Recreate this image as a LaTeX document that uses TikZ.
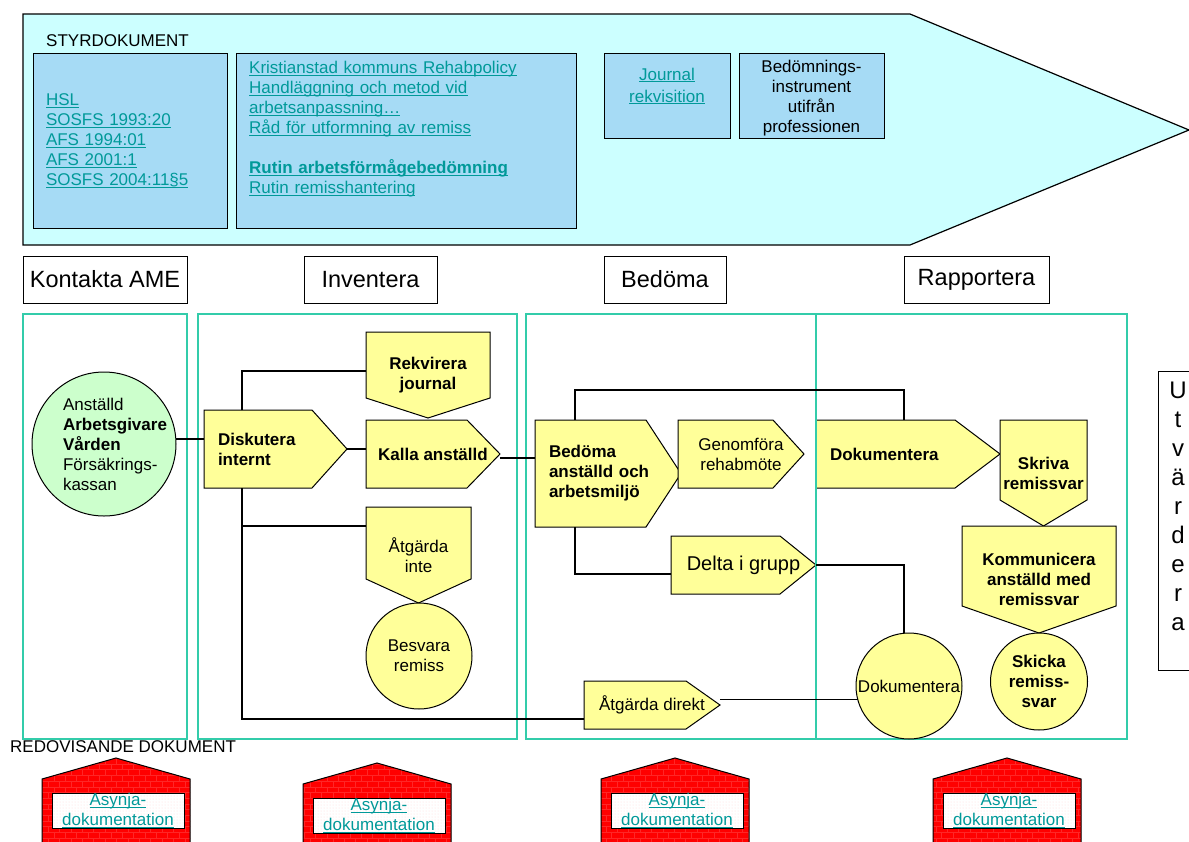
\documentclass[tikz,border=0pt]{standalone}
\usepackage{fontspec}
\setmainfont{Liberation Sans}
\usetikzlibrary{backgrounds, patterns, calc}

\definecolor{sdcyan}{RGB}{204,255,255}
\definecolor{sdblue}{RGB}{166,219,245}
\definecolor{linkteal}{RGB}{0,153,153}
\definecolor{lanegreen}{RGB}{51,204,170}
\definecolor{actyellow}{RGB}{255,255,153}
\definecolor{partgreen}{RGB}{204,255,204}

\newcommand\fbody{\fontsize{17}{20}\selectfont}
\newcommand\lk[1]{\leavevmode{\color{linkteal}\setbox0\hbox{#1}\rlap{\rule[-2.2pt]{\wd0}{1pt}}\box0}}
% pentagon around a node: right pointing / down pointing
\newcommand\rpent[2]{\begin{scope}[on background layer]
  \draw[actfill] (#1.north west) -- ([xshift=-#2pt]#1.north east) -- (#1.east) -- ([xshift=-#2pt]#1.south east) -- (#1.south west) -- cycle;
\end{scope}}
\newcommand\dpent[2]{\begin{scope}[on background layer]
  \draw[actfill] (#1.north west) -- (#1.north east) -- ([yshift=#2pt]#1.south east) -- (#1.south) -- ([yshift=#2pt]#1.south west) -- cycle;
\end{scope}}

\tikzset{
    plain/.style={font=\fbody, inner sep=0pt},
    bigarrow/.style={draw, line width=1.2pt, fill=sdcyan},
    sdbox/.style={draw, line width=1pt, fill=sdblue, font=\fbody, inner sep=2pt, outer sep=0pt},
    header/.style={draw, line width=1pt, fill=white, font=\fontsize{23.5}{28}\selectfont, minimum height=47pt, inner sep=0pt, outer sep=0pt},
    lane/.style={draw=lanegreen, line width=1.1pt},
    actbox/.style={rectangle, font=\fbody, align=center, inner sep=2pt, outer sep=0pt},
    actfill/.style={draw, line width=1pt, fill=actyellow},
    actcircle/.style={circle, draw, line width=1pt, fill=actyellow, font=\fbody, align=center, inner sep=0pt, outer sep=0pt},
    partcircle/.style={circle, draw, line width=1pt, fill=partgreen, inner sep=0pt, outer sep=0pt},
    conn/.style={draw, line width=1.2pt},
    housefill/.style={draw, line width=1pt, preaction={fill=red}, pattern=bricks, pattern color=red!85!white},
    asybox/.style={draw, line width=1pt, preaction={fill=white}, pattern=dots, pattern color=red!15, font=\fbody, align=center, minimum width=132pt, minimum height=35pt, inner sep=0pt},
}

\begin{document}
\begin{tikzpicture}[x=1pt, y=-1pt]
\useasboundingbox (0,0) rectangle (1189,841);

% styrdokument
\draw[bigarrow] (23,14) -- (910,14) -- (1189,130) -- (910,245) -- (23,245) -- cycle;
\node[plain, anchor=west] (styr) at (46,41) {STYRDOKUMENT};
\node[sdbox, minimum width=194pt, minimum height=175pt, text width=168pt, inner xsep=13pt, align=left] (sd1) at (130,140.5)
  {\lk{HSL}\\\lk{SOSFS 1993:20}\\\lk{AFS 1994:01}\\\lk{AFS 2001:1}\\\lk{SOSFS 2004:11§5}};
\node[sdbox, minimum width=340pt, minimum height=175pt] (sd2) at (406,140.5) {};
\node[plain, anchor=north west, text width=320pt, align=left] (sd2t) at (249,61)
  {\lk{Kristianstad kommuns Rehabpolicy}\\\lk{Handläggning och metod vid}\\\lk{arbetsanpassning…}\\\lk{Råd för utformning av remiss}\\[20pt]
   \lk{\bfseries Rutin arbetsförmågebedömning}\\\lk{Rutin remisshantering}};
\node[sdbox, minimum width=126pt, minimum height=85pt] (sd3) at (667,95.5) {};
\node[plain, align=center] (sd3t) at (667,86) {\lk{Journal}\\[2pt]\lk{rekvisition}};
\node[sdbox, minimum width=145pt, minimum height=85pt] (sd4) at (811.5,95.5) {};
\node[plain, align=center] (sd4t) at (811.5,98.5) {Bedömnings-\\instrument\\utifrån\\professionen};

% faser
\node[header, minimum width=164pt] (hk) at (105,279.5) {Kontakta AME};
\node[header, minimum width=133pt] (hi) at (370.5,279.5) {Inventera};
\node[header, minimum width=122pt] (hb) at (665,279.5) {Bedöma};
\node[header, minimum width=145pt] (hr) at (976.5,279.5) {Rapportera};

\draw[lane] (23,314) rectangle (187,739);
\draw[lane] (198,314) rectangle (517,739);
\draw[lane] (526,314) rectangle (816,739);
\draw[lane] (816,314) rectangle (1127,739);

\draw[line width=1pt] (1158,371) rectangle (1210,670);
\node[align=center, inner sep=0pt, font=\fontsize{24}{29}\selectfont] (utv) at (1178,506) {U\\t\\v\\ä\\r\\d\\e\\r\\a};

% kontakta
\node[partcircle, minimum size=144pt] (anst) at (104,444) {};
\node[plain, align=left] (anstt) at (115,444)
  {Anställd\\\textbf{Arbetsgivare}\\\textbf{Vården}\\Försäkrings-\\kassan};

% inventera
\node[actbox, minimum width=143pt, minimum height=78pt, text width=115pt, inner xsep=14pt, align=left, font=\fbody\bfseries] (disk) at (275.5,449) {Diskutera\\internt};
\node[actbox, minimum width=124pt, minimum height=86pt, font=\fbody\bfseries] (rekv) at (428,375) {Rekvirera\\journal};
\node[actbox, minimum width=134pt, minimum height=68pt, font=\fbody\bfseries] (kalla) at (433,454) {Kalla anställd};
\node[actbox, minimum width=105pt, minimum height=96pt] (atgi) at (418.5,555) {Åtgärda\\inte};
\node[actcircle, minimum size=106pt] (besv) at (419,656) {Besvara\\remiss};
\rpent{disk}{35}
\dpent{rekv}{20}
\rpent{kalla}{33}
\dpent{atgi}{24}

% bedoma
\node[actbox, minimum width=146pt, minimum height=107pt, text width=118pt, inner xsep=14pt, align=left, font=\fbody\bfseries] (bedo) at (608,473.5) {Bedöma\\anställd och\\arbetsmiljö};
\node[actbox, minimum width=126pt, minimum height=68pt] (genf) at (741,454) {Genomföra\\rehabmöte};
\node[actbox, minimum width=145pt, minimum height=58pt, font=\fontsize{20}{24}\selectfont] (delta) at (743.5,565) {Delta i grupp};
\node[actbox, minimum width=136pt, minimum height=48pt] (atgd) at (652,705) {Åtgärda direkt};
\rpent{bedo}{35}
\rpent{genf}{31}
\rpent{delta}{36}
\rpent{atgd}{34}

% rapportera
\node[actbox, minimum width=184pt, minimum height=68pt, text width=156pt, inner xsep=14pt, align=left, font=\fbody\bfseries] (doku) at (908,454) {Dokumentera};
\node[actbox, minimum width=87pt, minimum height=106pt, font=\fbody\bfseries] (skri) at (1043.5,473) {Skriva\\remissvar};
\node[actbox, minimum width=154pt, minimum height=107pt, font=\fbody\bfseries] (komm) at (1039,579.5) {Kommunicera\\anställd med\\remissvar};
\node[actcircle, minimum size=97pt, font=\fbody\bfseries] (skic) at (1039,681.5) {Skicka\\remiss-\\svar};
\node[actcircle, minimum size=106pt] (dokc) at (909,686) {Dokumentera};
\rpent{doku}{45}
\dpent{skri}{26}
\dpent{komm}{27}

% kopplingar
\draw[conn] (anst.4) -- (anst.4 -| disk.west);
\draw[conn] (disk.east) -- (disk.east -| kalla.west);
\draw[conn] ([xshift=38pt]disk.north west) |- ([yshift=4pt]rekv.west);
\draw[conn] ([yshift=-19pt]atgi.north west) -| ([xshift=38pt]disk.south west);
\draw[conn] ([xshift=38pt]disk.south west) |- ([yshift=-14pt]atgd.west);
\draw[conn] ([yshift=-4pt]kalla.east) -- ([yshift=-4pt]kalla.east -| bedo.west);
\draw[conn] ([xshift=40pt]bedo.north west) -- ++(0,-30) -| ([xshift=-4pt]doku.north);
\draw[conn] ([xshift=40pt]bedo.south west) |- ([yshift=-9pt]delta.west);
\draw[conn] (delta.east) -| ([xshift=-5pt]dokc.north);
\draw[conn] (dokc.195) -- (dokc.195 -| atgd.east);

% redovisande dokument
\node[plain, anchor=west] (redo) at (10,747) {REDOVISANDE DOKUMENT};
\foreach \hx/\hy/\nm in {42/758/asy1, 303/763/asy2, 601/758/asy3, 933/758/asy4} {
  \draw[housefill] (\hx,850) -- (\hx,\hy+21) -- (\hx+74,\hy) -- (\hx+148,\hy+21) -- (\hx+148,850) -- cycle;
  \node[asybox] (\nm) at (\hx+76,\hy+52.5) {\lk{Asynja-}\\\lk{dokumentation}};
}
\end{tikzpicture}
\end{document}
